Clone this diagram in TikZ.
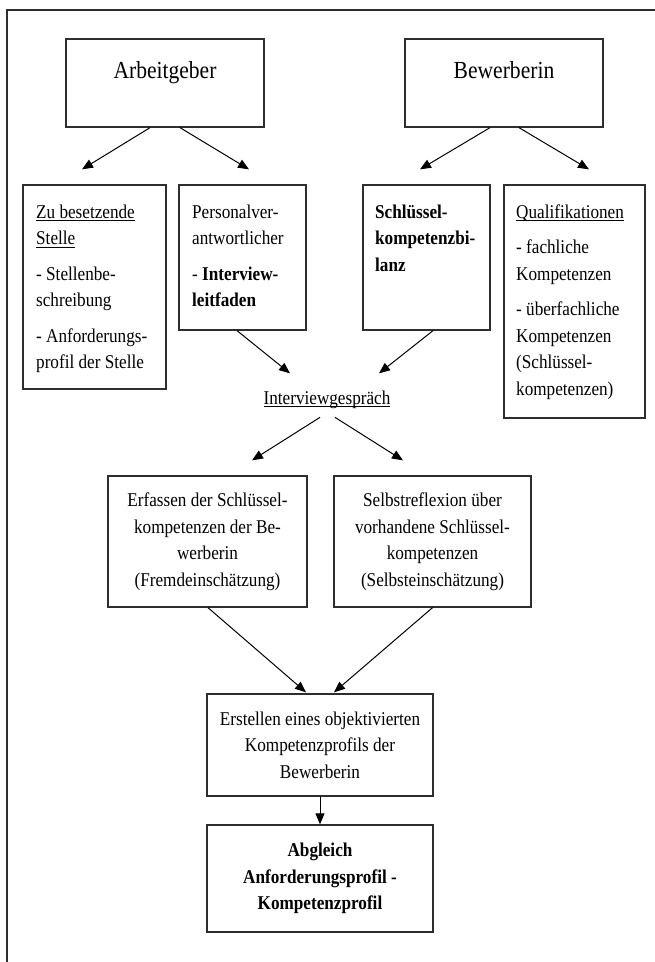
\documentclass[tikz,border=0pt]{standalone}
\usepackage{fontspec}
\setmainfont[FakeStretch=0.88]{Liberation Serif}
\usetikzlibrary{arrows.meta}
\definecolor{ln}{HTML}{2E2E2E}
\newcommand{\myul}[1]{\setbox0\hbox{#1}\rlap{\rule[-3pt]{\wd0}{0.9pt}}\box0}
\tikzset{
  box/.style={draw=ln, line width=1.3pt, inner sep=0pt},
  txt/.style={inner sep=0pt, align=left, font=\fontsize{19.5pt}{26.5pt}\selectfont},
  ctxt/.style={align=center, font=\fontsize{19.5pt}{26.5pt}\selectfont},
  big/.style={inner sep=0pt, font=\fontsize{24.5pt}{26pt}\selectfont},
  arr/.style={draw=black, line width=1pt, -{Triangle[length=11pt,width=9pt]}},
}
\begin{document}
\begin{tikzpicture}[x=1pt,y=-1pt]
\useasboundingbox (0,0) rectangle (654,962);
\draw[ln, line width=1.5pt] (7,970) -- (7,10) -- (660,10);

% top row
\node[box, minimum width=198pt, minimum height=88pt] (ag) at (165,83) {};
\node[big, anchor=base] (agt) at (165,78) {Arbeitgeber};
\node[box, minimum width=198pt, minimum height=88pt] (bw) at (504,83) {};
\node[big, anchor=base] (bwt) at (504,78) {Bewerberin};

% second row
\node[box, minimum width=143pt, minimum height=204pt] (b1) at (94.5,287) {};
\node[txt, anchor=north west] (t1) at (36,203.5) {\rule{0pt}{14.5pt}\myul{Zu besetzende}\\ \myul{Stelle}\\[9pt] - Stellenbe-\\ schreibung\\[9pt] - Anforderungs-\\ profil der Stelle};
\node[box, minimum width=127pt, minimum height=145pt] (b2) at (242.5,257.5) {};
\node[txt, anchor=north west] (t2) at (192,203.5) {\rule{0pt}{14.5pt}Personalver-\\ antwortlicher\\[9pt] - \textbf{Interview-}\\ \textbf{leitfaden}};
\node[box, minimum width=127pt, minimum height=145pt] (b3) at (426.5,257.5) {};
\node[txt, anchor=north west] (t3) at (375,203.5) {\rule{0pt}{14.5pt}\textbf{Schlüssel-}\\ \textbf{kompetenzbi-}\\ \textbf{lanz}};
\node[box, minimum width=141pt, minimum height=233pt] (b4) at (574.5,301.5) {};
\node[txt, anchor=north west] (t4) at (516,203.5) {\rule{0pt}{14.5pt}\myul{Qualifikationen}\\[9pt] - fachliche\\ Kompetenzen\\[9pt] - überfachliche\\ Kompetenzen\\ (Schlüssel-\\ kompetenzen)};

% interview
\node[txt, anchor=base] (iv) at (327,404) {\myul{Interviewgespräch}};

% third row
\node[box, ctxt, minimum width=199pt, minimum height=131pt] (b5) at (207.5,541.5) {Erfassen der Schlüssel-\\ kompetenzen der Be-\\ werberin\\ (Fremdeinschätzung)};
\node[box, ctxt, minimum width=197pt, minimum height=131pt] (b6) at (432.5,541.5) {Selbstreflexion über\\ vorhandene Schlüssel-\\ kompetenzen\\ (Selbsteinschätzung)};

% bottom
\node[box, ctxt, minimum width=226pt, minimum height=102pt] (b7) at (320,745) {Erstellen eines objektivierten\\ Kompetenzprofils der\\ Bewerberin};
\node[box, ctxt, minimum width=226pt, minimum height=107pt, font=\fontsize{19.5pt}{26.5pt}\selectfont\bfseries] (b8) at (320,878.5) {Abgleich\\ Anforderungsprofil -\\ Kompetenzprofil};

% arrows
\draw[arr] ([xshift=-15pt]ag.south) -- ([xshift=-12.5pt,yshift=15pt]b1.north);
\draw[arr] ([xshift=15pt]ag.south) -- ([xshift=6.5pt,yshift=15pt]b2.north);
\draw[arr] ([xshift=-14pt]bw.south) -- ([xshift=-6.5pt,yshift=15pt]b3.north);
\draw[arr] ([xshift=15pt]bw.south) -- ([xshift=14.5pt,yshift=15pt]b4.north);
\draw[arr] ([xshift=-5.5pt]b2.south) -- ([xshift=-37pt,yshift=26pt]iv.center);
\draw[arr] ([xshift=6.5pt]b3.south) -- ([xshift=52pt,yshift=26pt]iv.center);
\draw[arr] ([xshift=-7pt,yshift=-18pt]iv.center) -- ([xshift=44.5pt,yshift=15pt]b5.north);
\draw[arr] ([xshift=8pt,yshift=-18pt]iv.center) -- ([xshift=-29.5pt,yshift=15pt]b6.north);
\draw[arr] ([xshift=0.5pt]b5.south) -- ([xshift=-14pt,yshift=1pt]b7.north);
\draw[arr] (b6.south) -- ([xshift=14pt,yshift=1pt]b7.north);
\draw[arr] (b7.south) -- (b8.north);
\end{tikzpicture}
\end{document}
